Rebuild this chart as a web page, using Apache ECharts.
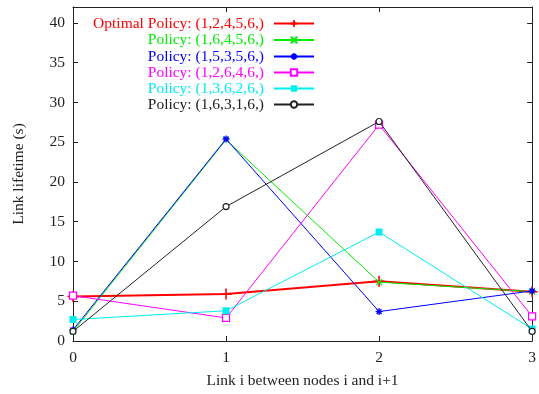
<!DOCTYPE html>
<html><head><meta charset="utf-8">
<script src="https://cdn.jsdelivr.net/npm/echarts@6/dist/echarts.min.js"></script>
<style>html,body{margin:0;padding:0;background:#fff}#c{width:539px;height:394px}</style>
</head><body><div id="c"></div>
<script>
const xLinks = [0, 1, 2, 3];
const optimal = [5.6, 5.9, 7.5, 6.2];
const policy16456 = [1.2, 25.3, 7.4, 6.2];
const policy15356 = [1.4, 25.4, 3.7, 6.3];
const policy12646 = [5.7, 2.9, 27.2, 3.1];
const policy13626 = [2.7, 3.8, 13.7, 1.5];
const policy16316 = [1.2, 16.9, 27.6, 1.2];
const names = ["Optimal Policy: (1,2,4,5,6,)", "Policy: (1,6,4,5,6,)", "Policy: (1,5,3,5,6,)", "Policy: (1,2,6,4,6,)", "Policy: (1,3,6,2,6,)", "Policy: (1,6,3,1,6,)"];
const values = [optimal, policy16456, policy15356, policy12646, policy13626, policy16316];
const yTicks = [0, 5, 10, 15, 20, 25, 30, 35, 40];

const colors = ['#ff0000', '#00ee00', '#0000ff', '#ff00ff', '#00eeee', '#222222'];
const symbols = [
  {symbol: 'path://M0,5L10,5M5,0L5,10', size: 11, bw: 1.6, fill: 'none'},
  {symbol: 'path://M0,0L10,10M10,0L0,10', size: 6, bw: 1.2, fill: 'none'},
  {symbol: 'path://M0,5L10,5M5,0L5,10M1.5,1.5L8.5,8.5M8.5,1.5L1.5,8.5', size: 7, bw: 1.3, fill: 'none'},
  {symbol: 'rect', size: 7, bw: 1.2, fill: '#fff', stroke: true},
  {symbol: 'rect', size: 7, bw: 0, fill: null},
  {symbol: 'circle', size: 6, bw: 1.2, fill: '#fff', stroke: true}
];
const widths = [2, 1, 1, 1, 1, 1];
const serif = 'Liberation Serif';
const fs = 15.5;

const series = values.map((v, i) => {
  const s = symbols[i];
  const isPath = s.symbol.startsWith('path');
  return {
    name: names[i], type: 'line',
    data: v.map((y, k) => [xLinks[k], y]),
    symbol: s.symbol, symbolSize: s.size,
    lineStyle: {color: colors[i], width: widths[i]},
    itemStyle: {
      color: (isPath || s.stroke) ? (s.fill === 'none' ? 'rgba(0,0,0,0)' : s.fill) : colors[i],
      borderColor: colors[i], borderWidth: s.bw
    },
    emphasis: {disabled: true},
    z: 2 + i
  };
});

const rowCenters = [22, 38.5, 55, 71, 87, 103];
const legends = names.map((n, i) => ({
  data: [{name: n}],
  right: 224, top: rowCenters[i] - 6.5,
  align: 'right', orient: 'vertical',
  itemWidth: 40, itemHeight: 8, padding: 0,
  textStyle: {color: colors[i], fontFamily: serif, fontSize: fs, padding: [0, 5, 0, 0]},
  selectedMode: false
}));

const axisLineStyle = {color: '#222', width: 1};
const chart = echarts.init(document.getElementById('c'), null, {renderer: 'canvas'});
chart.setOption({
  animation: false,
  backgroundColor: '#fff',
  legend: legends,
  grid: {left: 73, right: 5, top: 7, bottom: 53, containLabel: false},
  xAxis: [
    {type: 'value', min: 0, max: 3, interval: 1, position: 'bottom',
     name: 'Link i between nodes i and i+1', nameLocation: 'middle', nameGap: 32,
     nameTextStyle: {fontFamily: serif, fontSize: fs, color: '#222'},
     axisLine: {show: true, onZero: false, lineStyle: axisLineStyle},
     axisTick: {show: true, inside: true, length: 5, lineStyle: axisLineStyle},
     axisLabel: {fontFamily: serif, fontSize: fs, color: '#222', margin: 9},
     splitLine: {show: false}},
    {type: 'value', min: 0, max: 3, interval: 1, position: 'top',
     axisLine: {show: true, onZero: false, lineStyle: axisLineStyle},
     axisTick: {show: true, inside: true, length: 5, lineStyle: axisLineStyle},
     axisLabel: {show: false}, splitLine: {show: false}}
  ],
  yAxis: [
    {type: 'value', min: 0, max: 42, interval: 5, position: 'left',
     name: 'Link lifetime (s)', nameLocation: 'middle', nameGap: 46,
     nameTextStyle: {fontFamily: serif, fontSize: fs, color: '#222'},
     axisLine: {show: true, onZero: false, lineStyle: axisLineStyle},
     axisTick: {show: true, inside: true, length: 5, lineStyle: axisLineStyle, customValues: yTicks},
     axisLabel: {fontFamily: serif, fontSize: fs, color: '#222', margin: 8, customValues: yTicks},
     splitLine: {show: false}},
    {type: 'value', min: 0, max: 42, interval: 5, position: 'right',
     axisLine: {show: true, onZero: false, lineStyle: axisLineStyle},
     axisTick: {show: true, inside: true, length: 5, lineStyle: axisLineStyle, customValues: yTicks},
     axisLabel: {show: false}, splitLine: {show: false}}
  ],
  series: series
});
</script></body></html>
